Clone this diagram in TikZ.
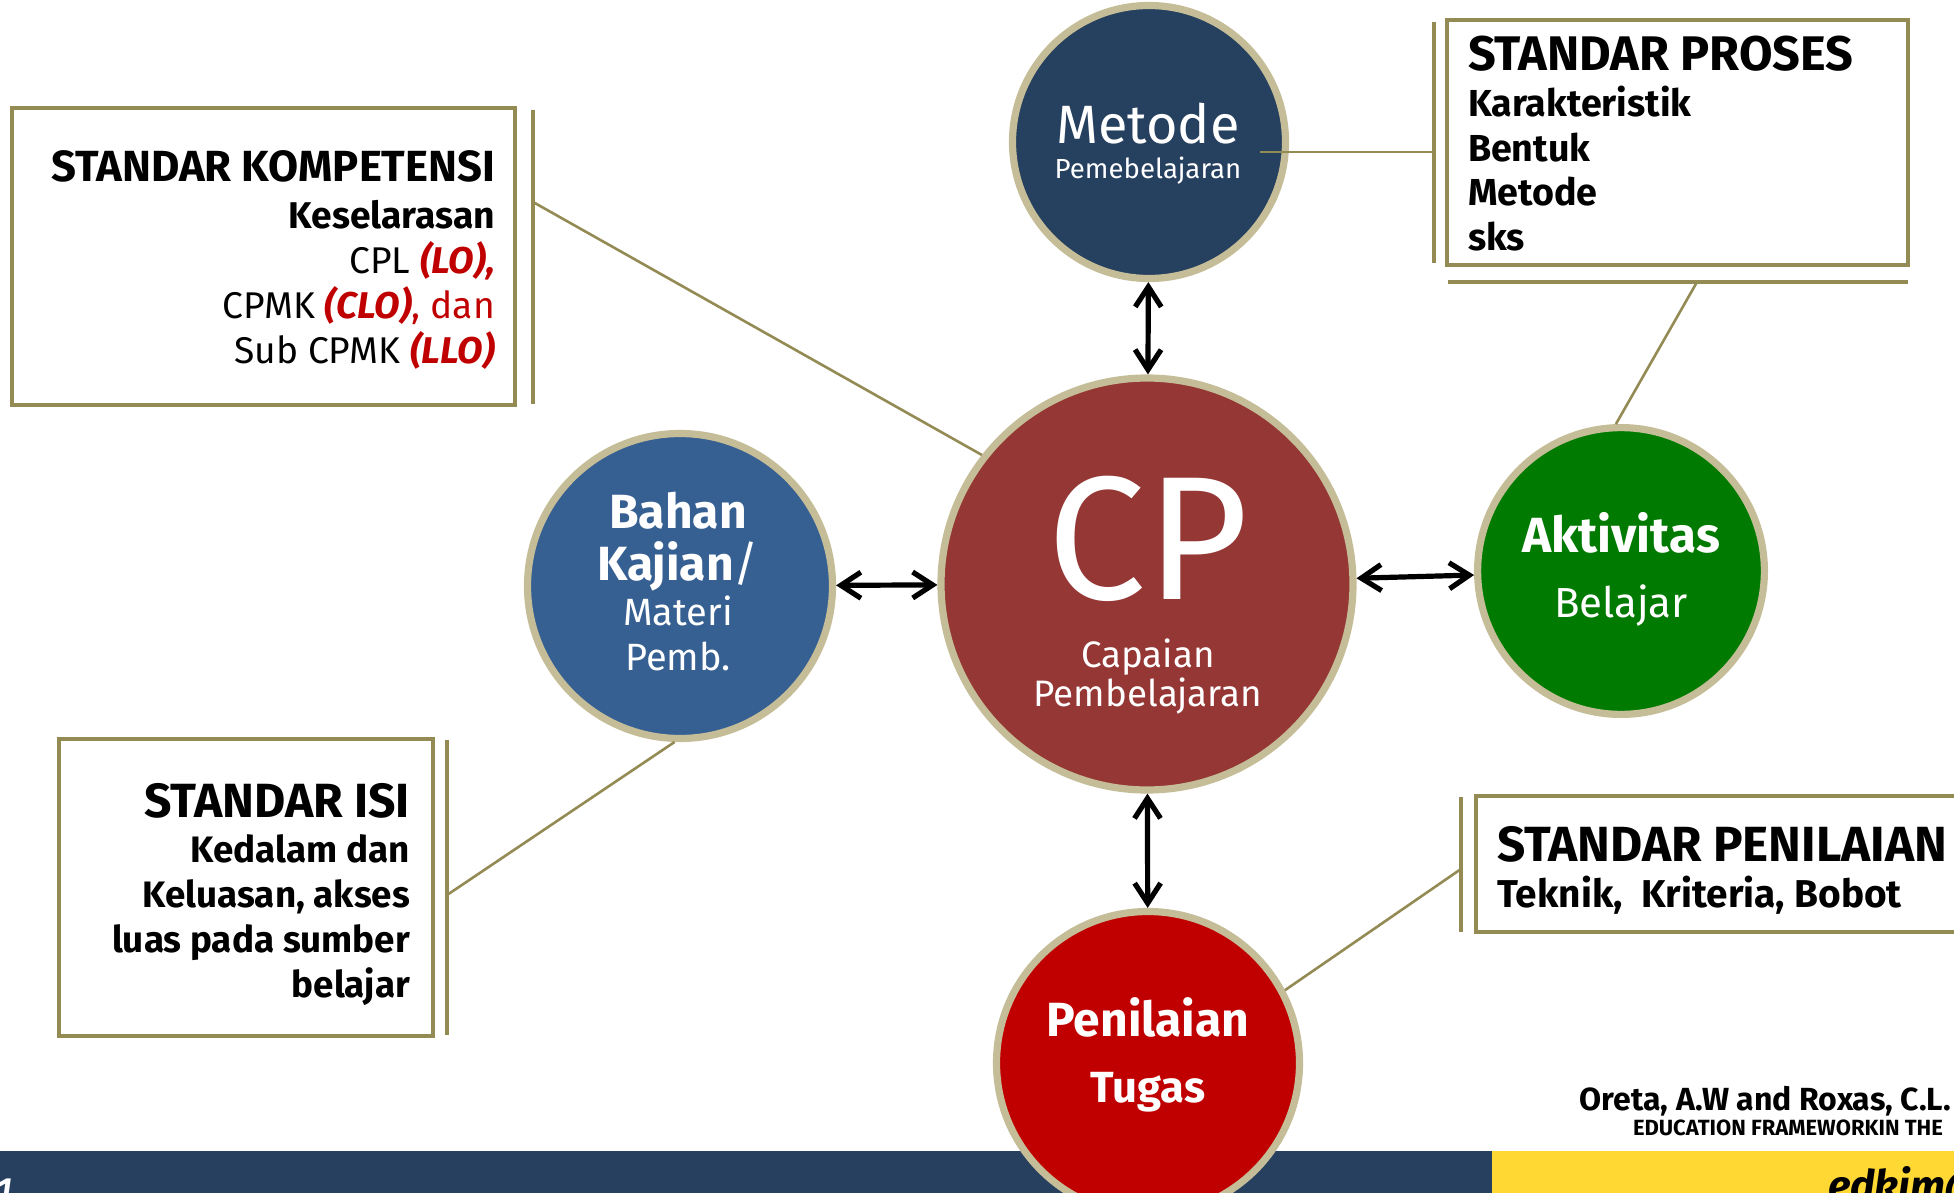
\documentclass[tikz,border=0pt]{standalone}
\usepackage{fontspec}
\setmainfont{Fira Sans}
\usepackage{tikz}
\usetikzlibrary{arrows.meta}

\definecolor{olive}{HTML}{948A54}
\definecolor{ringtan}{HTML}{C4BD97}
\definecolor{metnavy}{HTML}{26405F}
\definecolor{cpred}{HTML}{953735}
\definecolor{bahanblue}{HTML}{376092}
\definecolor{aktgreen}{HTML}{007A00}
\definecolor{penred}{HTML}{C00000}
\definecolor{lored}{HTML}{C00000}
\definecolor{footnavy}{HTML}{27405F}
\definecolor{footyellow}{HTML}{FFD833}

\newcommand{\lored}[1]{\textcolor{lored}{\bfseries\itshape #1}}

\begin{document}
\begin{tikzpicture}[x=0.5pt, y=-0.5pt,
  ring/.style={circle, draw=ringtan, line width=3.6pt, inner sep=0pt},
  frame/.style={draw=olive, line width=1.6pt},
  link/.style={draw=olive, line width=1.3pt},
  biarrow/.style={{Straight Barb[length=10pt,width=13pt]}-{Straight Barb[length=10pt,width=13pt]}, line width=2.6pt, line cap=round},
  txt/.style={inner sep=0pt, outer sep=0pt}]

\useasboundingbox (0,0) rectangle (1954,1193);

% Footer
\node[txt, anchor=base east, font=\fontsize{16}{18}\selectfont\bfseries] (cite) at (1951,1110) {Oreta, A.W and Roxas, C.L.};
\node[txt, anchor=base west, font=\fontsize{11}{12}\selectfont\bfseries] (citetitle) at (1633,1135) {EDUCATION FRAMEWORKIN THE};
\fill[footnavy] (0,1151) rectangle (1492,1193);
\fill[footyellow] (1492,1151) rectangle (1954,1193);
\node[txt, anchor=base east, white, font=\fontsize{16}{18}\selectfont\bfseries\itshape] (pageno) at (12,1200) {1};
\node[txt, anchor=base west, font=\fontsize{21}{25}\selectfont\bfseries\itshape] (mail) at (1828,1200) {edkim@};

% Circles
\node[ring, fill=metnavy, minimum size=136.5pt] (metode) at (1149,142) {};
\node[ring, fill=cpred, minimum size=206pt] (cp) at (1147,584) {};
\node[ring, fill=bahanblue, minimum size=152.5pt] (bahan) at (680,586) {};
\node[ring, fill=aktgreen, minimum size=143.4pt] (akt) at (1621,571) {};
\node[ring, fill=penred, minimum size=151.5pt] (pen) at (1148,1063) {};

% Circle texts (base = last line)
\node[txt, anchor=base, white, align=center, font=\fontsize{13.8}{17.5}\selectfont] (metodetext) at (1148,178)
  {{\fontsize{27}{30}\selectfont Metode}\\Pemebelajaran};
\node[txt, anchor=base, white, text depth=0pt, font=\fontsize{88}{90}\selectfont] (cptext) at (1148,599) {CP};
\node[txt, anchor=base, white, align=center, font=\fontsize{18.4}{19.5}\selectfont] (cpsub) at (1148,706)
  {Capaian\\Pembelajaran};
\node[txt, anchor=base, white, align=center, font=\fontsize{19}{22.5}\selectfont] (bahantext) at (678,670)
  {{\fontsize{24}{28}\selectfont\bfseries Bahan}\\[3.5pt]{\fontsize{24}{28}\selectfont\bfseries Kajian}{\fontsize{24}{28}\selectfont/}\\Materi\\Pemb.};
\node[txt, anchor=base, white, align=center, font=\fontsize{21}{32.5}\selectfont] (akttext) at (1621,617)
  {{\fontsize{24.7}{28}\selectfont\bfseries Aktivitas}\\Belajar};
\node[txt, anchor=base, white, align=center, font=\fontsize{21.8}{33}\selectfont\bfseries] (pentext) at (1148,1102)
  {{\fontsize{24}{28}\selectfont Penilaian}\\Tugas};

% Arrows
\draw[biarrow] (metode) -- (cp);
\draw[biarrow] (bahan) -- (cp);
\draw[biarrow] (cp) -- (akt);
\draw[biarrow] (cp) -- (pen);

% Standar kompetensi
\draw[frame] (12,108) rectangle (515,405);
\draw[frame] (533,110) -- (533,404);
\node[txt, anchor=base east, font=\fontsize{21.8}{24}\selectfont\bfseries] (kompT) at (495,182) {STANDAR KOMPETENSI};
\node[txt, anchor=base east, align=right, font=\fontsize{18.6}{22.5}\selectfont] (kompB) at (495,363)
  {\textbf{Keselarasan}\\CPL \lored{(LO),}\\CPMK \lored{(CLO)}\textcolor{lored}{, dan}\\Sub CPMK \lored{(LLO)}};
\coordinate (kjoint) at (533,202);
\draw[link] (kjoint) -- (cp.142);

% Standar proses
\draw[frame] (1447,20) rectangle (1908,265);
\draw[frame] (1434,22) -- (1434,263);
\draw[frame] (1448,282) -- (1908,282);
\node[txt, anchor=base west, font=\fontsize{24.3}{26}\selectfont\bfseries] (prosT) at (1468,71) {STANDAR PROSES};
\node[txt, anchor=base west, align=left, font=\fontsize{18.8}{22.2}\selectfont\bfseries] (prosB) at (1468,250)
  {Karakteristik\\Bentuk\\Metode\\sks};
\coordinate (mtip) at (1260,152);
\coordinate (pjoint) at (1434,152);
\draw[link] (mtip) -- (pjoint);
\coordinate (pfoot) at (1697,282);
\draw[link] (pfoot) -- (akt.92);

% Standar isi
\draw[frame] (59,739) rectangle (433,1036);
\draw[frame] (447,740) -- (447,1035);
\node[txt, anchor=base east, font=\fontsize{24}{28}\selectfont\bfseries] (isiT) at (410,817) {STANDAR ISI};
\node[txt, anchor=base east, align=right, font=\fontsize{18.4}{22.5}\selectfont\bfseries] (isiB) at (410,997)
  {Kedalam dan\\Keluasan, akses\\luas pada sumber\\belajar};
\coordinate (ijoint) at (447,895);
\draw[link] (ijoint) -- (bahan.268);

% Standar penilaian
\draw[frame] (1476,796) rectangle (1990,932);
\draw[frame] (1461,797) -- (1461,932);
\node[txt, anchor=base west, font=\fontsize{24.7}{28}\selectfont\bfseries] (nilaiT) at (1497,861) {STANDAR PENILAIAN};
\node[txt, anchor=base west, font=\fontsize{19.4}{22}\selectfont\bfseries] (nilaiB) at (1497,907) {Teknik,\ \ Kriteria, Bobot};
\coordinate (njoint) at (1461,869);
\draw[link] (njoint) -- (pen.28);

\end{tikzpicture}
\end{document}
